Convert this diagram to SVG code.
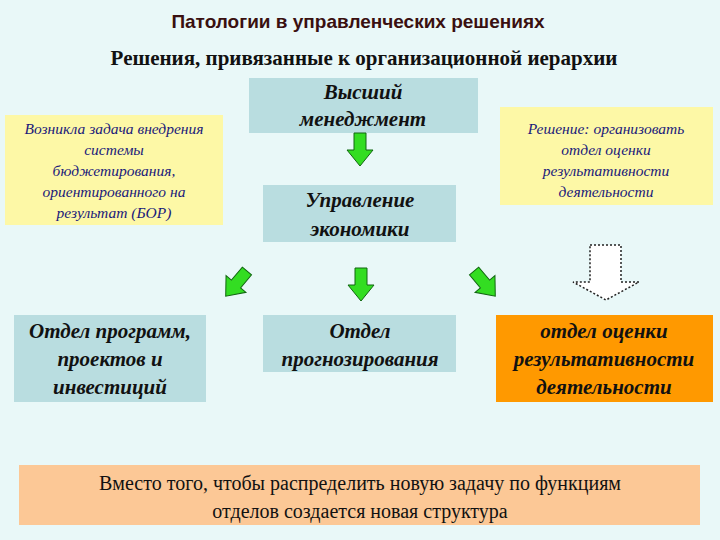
<svg xmlns="http://www.w3.org/2000/svg" width="720" height="540" viewBox="0 0 720 540">
<style>
.bx{fill:#b9dde0}
.yl{fill:#fdf8a6}
.bi{font-family:"Liberation Serif",serif;font-style:italic;font-weight:bold;font-size:21px;fill:#111;text-anchor:middle}
.yi{font-family:"Liberation Serif",serif;font-style:italic;font-size:15.5px;fill:#1a1a7a;text-anchor:middle}
.ga{fill:#33dd22;stroke:#116611;stroke-width:1}
</style>
<defs>
<path id="arr" d="M-6,-17 H6 V0 H13 L0,16 L-13,0 H-6 Z"/>
</defs>
<rect width="720" height="540" fill="#e9f8f8"/>
<text x="358" y="28" font-family="Liberation Sans,sans-serif" font-weight="bold" font-size="19" fill="#3a1010" text-anchor="middle">Патологии в управленческих решениях</text>
<text x="364" y="65" font-family="Liberation Serif,serif" font-weight="bold" font-size="21" fill="#111" text-anchor="middle">Решения, привязанные к организационной иерархии</text>
<g id="top"><rect class="bx" x="249" y="78" width="229" height="55"/><text class="bi" x="363" y="99">Высший</text><text class="bi" x="363" y="126">менеджмент</text></g>
<g id="problem"><rect class="yl" x="5" y="115" width="218" height="110"/>
<text class="yi" x="114" y="134">Возникла задача внедрения</text><text class="yi" x="114" y="155">системы</text><text class="yi" x="114" y="176">бюджетирования,</text><text class="yi" x="114" y="197">ориентированного на</text><text class="yi" x="114" y="218">результат (БОР)</text></g>
<g id="solution"><rect class="yl" x="500" y="107" width="213" height="98"/>
<text class="yi" x="606" y="134">Решение: организовать</text><text class="yi" x="606" y="155">отдел оценки</text><text class="yi" x="606" y="176">результативности</text><text class="yi" x="606" y="197">деятельности</text></g>
<g id="econ"><rect class="bx" x="263" y="185" width="193" height="57"/><text class="bi" x="360" y="207">Управление</text><text class="bi" x="360" y="236">экономики</text></g>
<g id="programs"><rect class="bx" x="14" y="315" width="192" height="87"/><text class="bi" x="110" y="338">Отдел программ,</text><text class="bi" x="110" y="366">проектов и</text><text class="bi" x="110" y="394">инвестиций</text></g>
<g id="forecast"><rect class="bx" x="263" y="315" width="193" height="57"/><text class="bi" x="360" y="338">Отдел</text><text class="bi" x="360" y="366">прогнозирования</text></g>
<g id="eval"><rect fill="#ff9900" x="496" y="315" width="217" height="87"/><text class="bi" x="604" y="338">отдел оценки</text><text class="bi" x="604" y="366">результативности</text><text class="bi" x="604" y="394">деятельности</text></g>
<g id="note"><rect fill="#fcc896" x="19" y="465" width="681" height="60"/>
<text x="360" y="490" font-family="Liberation Serif,serif" font-size="20" fill="#111" text-anchor="middle">Вместо того, чтобы распределить новую задачу по функциям</text>
<text x="360" y="518" font-family="Liberation Serif,serif" font-size="20" fill="#111" text-anchor="middle">отделов создается новая структура</text></g>
<g id="connectors">
<use href="#arr" class="ga" transform="translate(360,150)"/>
<use href="#arr" class="ga" transform="translate(361,285)"/>
<use href="#arr" class="ga" transform="translate(236,284) rotate(40)"/>
<use href="#arr" class="ga" transform="translate(485,284) rotate(-40)"/>
<path d="M590,245 H621 V282 H639 L606,300 L573,282 H590 Z" fill="#fff" stroke="#222" stroke-width="1.5" stroke-dasharray="2,2"/>
</g>
</svg>
